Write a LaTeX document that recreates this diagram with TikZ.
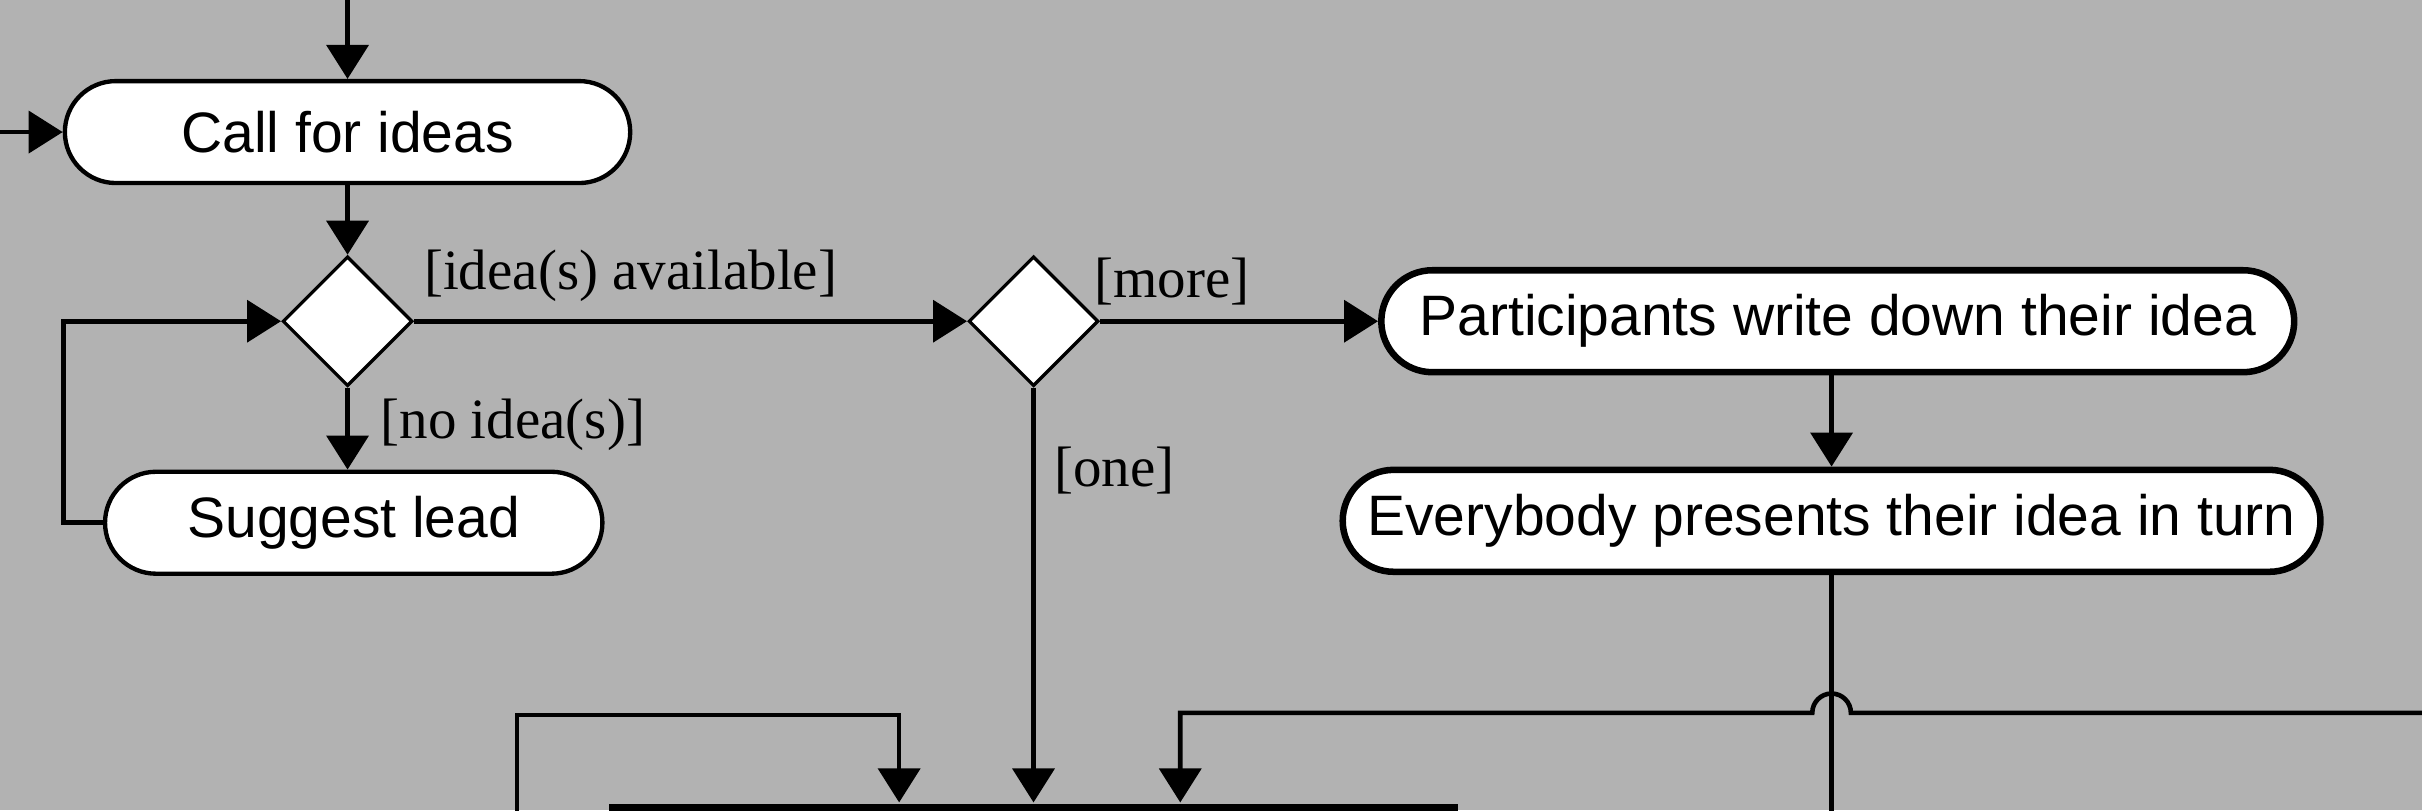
\documentclass[tikz,border=0pt]{standalone}
\usepackage{fontspec}
\setmainfont{Liberation Serif}
\setsansfont{Liberation Sans}
\usepackage{tikz}
\usetikzlibrary{arrows.meta, calc, positioning, shapes.geometric}
\usepackage{xcolor}
\definecolor{Canvas}{gray}{0.70}
\definecolor{RichBlack}{gray}{0.0}
\tikzset{%
  activity/.style={%
    rectangle,%
    rounded corners=3.3mm,%
    minimum height=6.6mm,%
    draw=RichBlack,%
    line width=0.8pt,%
    fill=white,%
    inner sep=0pt,%
    font={\sffamily\fontsize{10.5}{12}\selectfont},%
    align=center%
  },
  wide_activity/.style={%
    activity,%
    line width=1.2pt,%
  },
  decision/.style={%
    diamond,%
    minimum width=8.4mm,%
    minimum height=8.4mm,%
    inner sep=0pt,%
    draw=RichBlack,%
    line width=0.6pt,%
    fill=white,%
  },
  sync_bar/.style={%
    rectangle,%
    minimum width=55mm,%
    minimum height=2mm,%
    inner sep=0pt,%
    fill=RichBlack,%
  },
  flow_path/.style={%
    color=RichBlack,%
    line width=0.85pt,%
    line join=miter,%
  },
  guard_label/.style={%
    inner sep=0pt,%
    font={\fontsize{10.5}{12}\selectfont},%
  },
  arrow/.style={-{Triangle[length=2.2mm, width=2.7mm]}},
}
\begin{document}
\begin{tikzpicture}[x=0.1mm, y=0.1mm]
    \useasboundingbox (0,0) rectangle (1568,-524.4);
    \fill [Canvas] (0,0) rectangle (1568,-524.4);

    \node [activity, minimum width=36.6mm] (Call) at (225,-85.5) {Call for ideas};
    \node [decision, below = 4.5mm of Call] (Choice) {};
    \node [activity, minimum width=32.2mm, below = 5.3mm of Choice, xshift=0.4mm] (Lead) {Suggest lead};
    \node [decision, right = 35.8mm of Choice] (Count) {};
    \node [wide_activity, minimum width=59.1mm, right = 18mm of Count] (Write) {Participants write down their idea};
    \node [wide_activity, minimum width=63.3mm, below = 5.9mm of Write, xshift=-0.4mm] (Present) {Everybody presents their idea in turn};
    \node [sync_bar, below = 26.85mm of Count, anchor=north] (Join) {};

    \coordinate (TopIn) at ($(Call.north)+(0,80)$);
    \coordinate (LeftIn) at ($(Call.west)+(-80,0)$);
    \coordinate (PresentOut) at ($(Present.south)+(0,-250)$);
    \coordinate (LeftBack) at (334.8,-560);
    \coordinate (LeftBend) at (334.8,-463);
    \coordinate (RightBack) at (1620,-461.5);

    \draw [arrow, flow_path] (TopIn) -- (Call.north);
    \draw [arrow, flow_path] (LeftIn) -- (Call.west);
    \draw [arrow, flow_path] (Call.south) -- (Choice.north);
    \draw [arrow, flow_path]
      (Choice.east)
      --
      node [guard_label, pos=0, anchor=south west, xshift=0.5mm, yshift=1.1mm] {[idea(s) available]}
      (Count.west);
    \draw [arrow, flow_path]
      (Choice.south)
      --
      node [guard_label, pos=0.45, right=2.0mm] {[no idea(s)]}
      (Choice.south |- Lead.north);
    \draw [arrow, flow_path]
      (Lead.west)
      --
      ++(-25.4,0)
      |-
      (Choice.west);
    \draw [arrow, flow_path]
      (Count.east)
      --
      node [guard_label, pos=0, anchor=south west, xshift=-0.5mm, yshift=0.9mm] {[more]}
      (Write.west);
    \draw [arrow, flow_path] (Write.south -| Present.north) -- (Present.north);
    \draw [flow_path] (Present.south) -- (PresentOut);
    \draw [arrow, flow_path]
      (Count.south)
      --
      node [guard_label, pos=0.2, right=1.2mm] {[one]}
      (Join.north);
    \draw [arrow, flow_path]
      (LeftBack)
      --
      (LeftBend)
      -|
      ($(Join.north)+(-87,0)$);
    \draw [arrow, flow_path]
      (RightBack)
      --
      ($(Present.south |- RightBack)+(12.5,0)$)
      arc [start angle=0, end angle=180, radius=1.25mm]
      -|
      ($(Join.north)+(95,0)$);
  \end{tikzpicture}
\end{document}
